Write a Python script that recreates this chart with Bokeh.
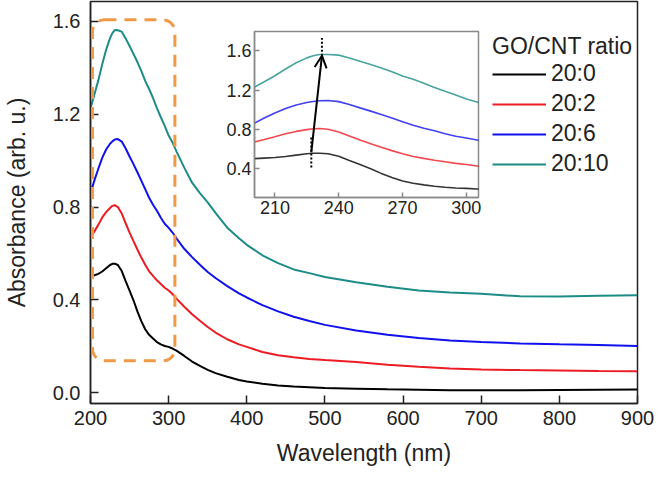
from bokeh.plotting import figure
from bokeh.models import (Legend, LegendItem, BoxAnnotation, Arrow, OpenHead, Range1d,
                          FixedTicker, NumeralTickFormatter, ColumnDataSource, GridBox)
from bokeh.embed import file_html
from bokeh.resources import INLINE

# ---------------- data ----------------
wavelength = [200, 205, 210, 215, 220, 225, 228, 231, 235, 240, 245, 250, 255, 260, 265,
              270, 275, 280, 285, 290, 295, 300, 305, 310, 320, 330, 340, 350, 360, 375,
              390, 400, 420, 440, 460, 480, 500, 540, 580, 620, 660, 700, 750, 800, 850, 900]

abs_20_0 = [0.500, 0.506, 0.512, 0.522, 0.536, 0.550, 0.555, 0.556, 0.550, 0.524, 0.481,
            0.440, 0.398, 0.350, 0.308, 0.273, 0.249, 0.233, 0.218, 0.208, 0.201, 0.197,
            0.190, 0.181, 0.158, 0.134, 0.115, 0.098, 0.084, 0.068, 0.054, 0.048, 0.038,
            0.031, 0.026, 0.023, 0.020, 0.017, 0.014, 0.012, 0.010, 0.010, 0.010, 0.011,
            0.012, 0.013]
abs_20_2 = [0.668, 0.695, 0.723, 0.755, 0.778, 0.796, 0.805, 0.808, 0.800, 0.772, 0.730,
            0.690, 0.653, 0.617, 0.582, 0.551, 0.523, 0.503, 0.484, 0.468, 0.452, 0.440,
            0.425, 0.405, 0.370, 0.338, 0.310, 0.283, 0.259, 0.230, 0.208, 0.197, 0.175,
            0.161, 0.152, 0.145, 0.140, 0.132, 0.120, 0.111, 0.104, 0.100, 0.097, 0.095,
            0.093, 0.092]
abs_20_6 = [0.858, 0.915, 0.965, 1.012, 1.048, 1.073, 1.083, 1.091, 1.093, 1.082, 1.052,
            1.018, 0.985, 0.950, 0.914, 0.877, 0.840, 0.810, 0.784, 0.754, 0.728, 0.710,
            0.690, 0.665, 0.620, 0.584, 0.551, 0.520, 0.494, 0.459, 0.428, 0.410, 0.377,
            0.350, 0.327, 0.309, 0.292, 0.268, 0.249, 0.235, 0.225, 0.218, 0.212, 0.208,
            0.205, 0.201]
abs_20_10 = [1.225, 1.285, 1.346, 1.415, 1.478, 1.528, 1.550, 1.563, 1.562, 1.556, 1.527,
             1.494, 1.460, 1.425, 1.387, 1.344, 1.309, 1.270, 1.226, 1.187, 1.150, 1.108,
             1.078, 1.040, 0.970, 0.905, 0.860, 0.820, 0.775, 0.711, 0.665, 0.637, 0.592,
             0.558, 0.531, 0.515, 0.498, 0.476, 0.456, 0.440, 0.432, 0.426, 0.415, 0.414,
             0.417, 0.420]

series_labels = ["20:0", "20:2", "20:6", "20:10"]
series_colors = ["#000000", "#ec1c24", "#1111ee", "#1c8c87"]

main_x_ticks = [200, 300, 400, 500, 600, 700, 800, 900]
main_y_ticks = [0.0, 0.4, 0.8, 1.2, 1.6]
inset_x_ticks = [210, 240, 270, 300]
inset_y_ticks = [0.4, 0.8, 1.2, 1.6]

# highlighted region (orange dashed box) in data units
box_left, box_right, box_bottom, box_top = 202.5, 308.0, 0.137, 1.607
# peak-shift arrow and dotted markers in the inset (data units)
arrow_start = (227.1, 0.565)
arrow_end = (232.1, 1.55)
dot_x0 = [227.1, 232.1]
dot_y0 = [0.41, 1.55]
dot_x1 = [227.1, 232.1]
dot_y1 = [0.72, 1.73]

FONT = "Liberation Sans"
# borders shared by both plots (Bokeh aligns the frames of plots in one layout)
B_LEFT, B_RIGHT, B_TOP, B_BOTTOM = 84, 21, 1, 72

src = ColumnDataSource(dict(wl=wavelength, s0=abs_20_0, s1=abs_20_2, s2=abs_20_6, s3=abs_20_10))
cols = ["s0", "s1", "s2", "s3"]

# ---------------- main figure ----------------
p = figure(width=658, height=475, output_backend="svg", toolbar_location=None,
           x_range=Range1d(200, 900), y_range=Range1d(-0.047, 1.686),
           min_border_left=B_LEFT, min_border_right=B_RIGHT,
           min_border_top=B_TOP, min_border_bottom=B_BOTTOM)
p.xgrid.visible = False
p.ygrid.visible = False
p.outline_line_color = "#222222"
p.outline_line_width = 1.5
p.background_fill_color = "white"
p.border_fill_color = "white"

p.xaxis.ticker = FixedTicker(ticks=main_x_ticks)
p.yaxis.ticker = FixedTicker(ticks=main_y_ticks)
p.yaxis.formatter = NumeralTickFormatter(format="0.0")
p.xaxis.axis_label = "Wavelength (nm)"
p.yaxis.axis_label = "Absorbance (arb. u.)"
for ax in p.axis:
    ax.major_tick_in = 8
    ax.major_tick_out = 0
    ax.minor_tick_line_color = None
    ax.axis_line_width = 1.5
    ax.axis_line_color = "#222222"
    ax.major_tick_line_width = 1.5
    ax.major_tick_line_color = "#222222"
    ax.major_label_text_font = FONT
    ax.major_label_text_font_size = "20px"
    ax.major_label_text_color = "#222222"
    ax.axis_label_text_font = FONT
    ax.axis_label_text_font_size = "23px"
    ax.axis_label_text_font_style = "normal"
    ax.axis_label_text_color = "#222222"
p.xaxis.major_label_standoff = 7
p.xaxis.axis_label_standoff = 12
p.yaxis.major_label_standoff = 10
p.yaxis.axis_label_standoff = 20

renderers = []
for c, col in zip(cols, series_colors):
    r = p.line("wl", c, source=src, line_color=col, line_width=2)
    renderers.append(r)

box = BoxAnnotation(left=box_left, right=box_right, bottom=box_bottom, top=box_top,
                    fill_color=None, fill_alpha=0, line_color="#f09a48", line_alpha=1.0,
                    line_width=3, line_dash="12 8", border_radius=12)
p.add_layout(box)

legend = Legend(items=[LegendItem(label=l, renderers=[r]) for l, r in zip(series_labels, renderers)],
                location=(402, 226), title="GO/CNT ratio",
                title_text_font=FONT, title_text_font_size="23px", title_text_font_style="normal",
                title_text_color="#222222", title_standoff=0,
                label_text_font=FONT, label_text_font_size="23px", label_text_color="#222222",
                glyph_width=54, glyph_height=24, label_height=24, label_standoff=5,
                spacing=3, padding=0, margin=0, border_line_alpha=0, background_fill_alpha=0)
p.add_layout(legend)

# ---------------- inset (frame 230 x 166) ----------------
ins = figure(width=230 + B_LEFT + B_RIGHT, height=166 + B_TOP + B_BOTTOM,
             output_backend="svg", toolbar_location=None,
             x_range=Range1d(200.4, 305.7), y_range=Range1d(0.104, 1.797),
             min_border_left=B_LEFT, min_border_right=B_RIGHT,
             min_border_top=B_TOP, min_border_bottom=B_BOTTOM)
ins.xgrid.visible = False
ins.ygrid.visible = False
ins.outline_line_color = "#8a8a8a"
ins.outline_line_width = 1.5
ins.border_fill_alpha = 0
ins.background_fill_color = "white"
ins.xaxis.ticker = FixedTicker(ticks=inset_x_ticks)
ins.yaxis.ticker = FixedTicker(ticks=inset_y_ticks)
ins.yaxis.formatter = NumeralTickFormatter(format="0.0")
for ax in ins.axis:
    ax.major_tick_in = 5
    ax.major_tick_out = 0
    ax.minor_tick_line_color = None
    ax.axis_line_color = "#8a8a8a"
    ax.axis_line_width = 1.5
    ax.major_tick_line_color = "#8a8a8a"
    ax.major_tick_line_width = 1.5
    ax.major_label_text_font = FONT
    ax.major_label_text_font_size = "18px"
    ax.major_label_text_color = "#222222"
    ax.major_label_standoff = 3

for c, col in zip(cols, series_colors):
    ins.line("wl", c, source=src, line_color=col, line_width=1.6, line_alpha=0.8)

ins.segment(x0=dot_x0, y0=dot_y0, x1=dot_x1, y1=dot_y1, line_color="black",
            line_width=2, line_dash="2 2")
ins.add_layout(Arrow(end=OpenHead(size=12, line_width=2, line_color="black"),
                     x_start=arrow_start[0], y_start=arrow_start[1],
                     x_end=arrow_end[0], y_end=arrow_end[1],
                     line_width=2, line_color="black"))
# inset frame at page (256, 39): canvas offset = frame - borders - 8px page margin
ins.margin = (39 - 8 - B_TOP, 0, 0, 256 - 8 - B_LEFT)
ins.align = "start"
p.align = "start"

layout = GridBox(children=[(p, 0, 0), (ins, 0, 0)])

open("out.html", "w").write(file_html(layout, INLINE))
